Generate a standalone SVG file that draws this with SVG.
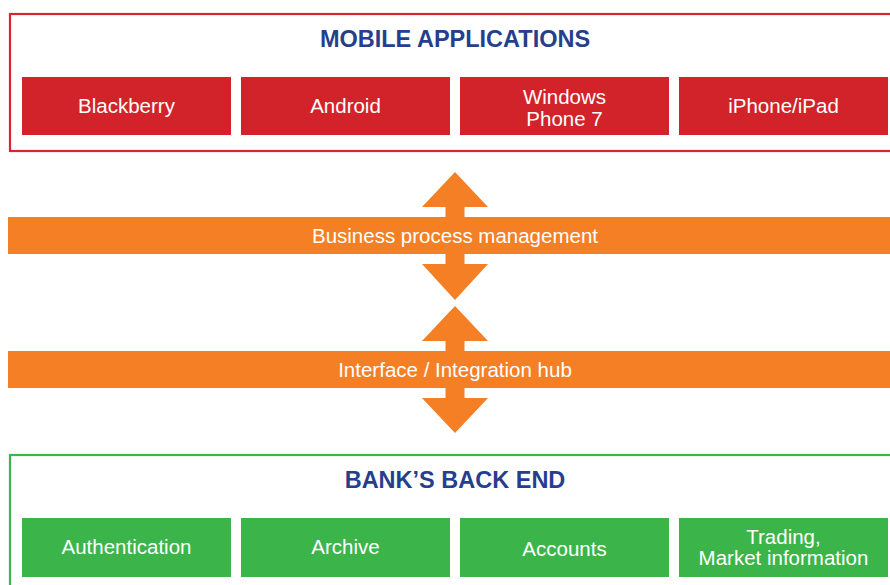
<svg xmlns="http://www.w3.org/2000/svg" width="890" height="585" viewBox="0 0 890 585">
<style>
.title{font-family:"Liberation Sans",Arial,sans-serif;font-weight:bold;font-size:23.5px;fill:#253f8e;text-anchor:middle}
.lbl{font-family:"Liberation Sans",Arial,sans-serif;font-size:20.5px;fill:#ffffff;text-anchor:middle}
.red{fill:#d2232a}
.green{fill:#3bb54a}
.orange{fill:#f47f24}
</style>
<rect width="890" height="585" fill="#ffffff"/>
<g id="connectors">
<polygon class="orange" points="455,172 488,207 464.5,207 464.5,264 488,264 455,300 422,264 445.5,264 445.5,207 422,207"/>
<polygon class="orange" points="455,306 488,341 464.5,341 464.5,398 488,398 455,433 422,398 445.5,398 445.5,341 422,341"/>
</g>
<g id="mobile-applications">
<rect x="10" y="14" width="885" height="137" fill="none" stroke="#d9262e" stroke-width="2.2"/>
<text class="title" x="455" y="47">MOBILE APPLICATIONS</text>
</g>
<g id="blackberry"><rect class="red" x="22" y="77" width="209" height="58"/><text class="lbl" x="126.5" y="113">Blackberry</text></g>
<g id="android"><rect class="red" x="241" y="77" width="209" height="58"/><text class="lbl" x="345.5" y="113">Android</text></g>
<g id="windows-phone"><rect class="red" x="460" y="77" width="209" height="58"/><text class="lbl" x="564.5" y="103.5">Windows</text><text class="lbl" x="564.5" y="125.5">Phone 7</text></g>
<g id="iphone"><rect class="red" x="679" y="77" width="209" height="58"/><text class="lbl" x="783.5" y="113">iPhone/iPad</text></g>
<g id="bpm"><rect class="orange" x="8" y="217" width="882" height="37"/><text class="lbl" x="455" y="243">Business process management</text></g>
<g id="hub"><rect class="orange" x="8" y="351" width="882" height="37"/><text class="lbl" x="455" y="377">Interface / Integration hub</text></g>
<g id="back-end">
<rect x="10" y="455" width="885" height="140" fill="none" stroke="#3db54a" stroke-width="2.2"/>
<text class="title" x="455" y="488">BANK’S BACK END</text>
</g>
<g id="authentication"><rect class="green" x="22" y="518" width="209" height="59"/><text class="lbl" x="126.5" y="554">Authentication</text></g>
<g id="archive"><rect class="green" x="241" y="518" width="209" height="59"/><text class="lbl" x="345.5" y="554">Archive</text></g>
<g id="accounts"><rect class="green" x="460" y="518" width="209" height="59"/><text class="lbl" x="564.5" y="556">Accounts</text></g>
<g id="trading"><rect class="green" x="679" y="518" width="209" height="59"/><text class="lbl" x="783.5" y="543.5">Trading,</text><text class="lbl" x="783.5" y="565">Market information</text></g>
</svg>
